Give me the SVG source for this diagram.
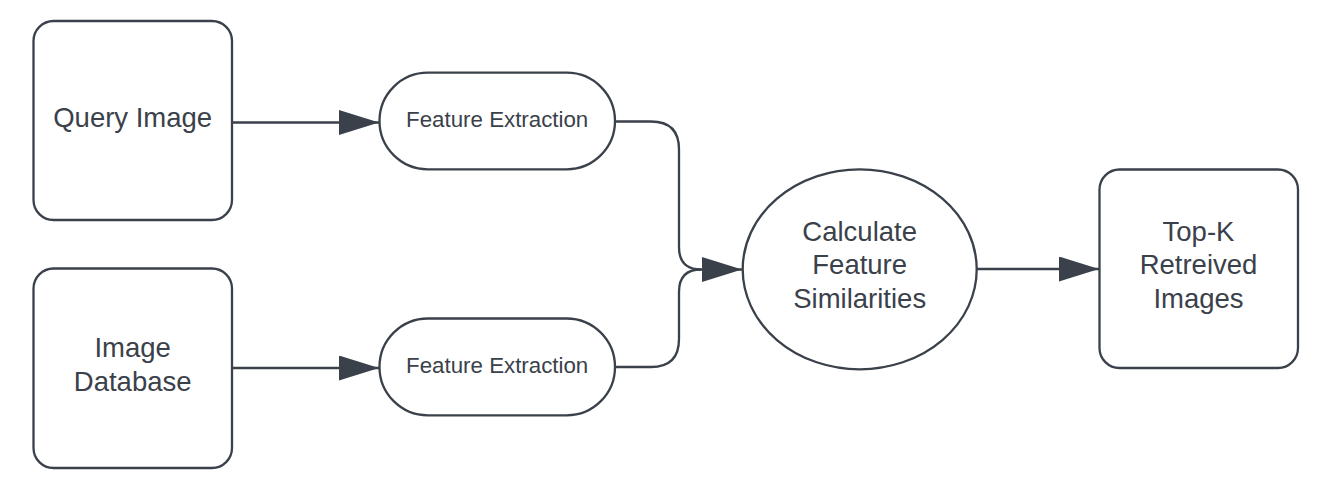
<svg xmlns="http://www.w3.org/2000/svg" width="1344" height="490" viewBox="0 0 1344 490">
<style>
.shape{fill:#ffffff;stroke:#3a414a;stroke-width:2.3}
.conn{fill:none;stroke:#3a414a;stroke-width:2.3}
.lbl{font-family:"Liberation Sans",Arial,sans-serif;font-size:27.5px;fill:#3a414a;text-anchor:middle}
.sm{font-size:22.3px}
</style>
<defs>
<marker id="arr" markerUnits="userSpaceOnUse" viewBox="0 0 40 25" refX="40" refY="12.5" markerWidth="40" markerHeight="25" orient="auto">
<path d="M0,0 L40,12.5 L0,25 Z" fill="#3a414a"/>
</marker>
</defs>
<rect width="1344" height="490" fill="#ffffff"/>
<g id="connectors">
<path class="conn" d="M232,122.5 H379" marker-end="url(#arr)"/>
<path class="conn" d="M232,368 H379" marker-end="url(#arr)"/>
<path class="conn" d="M615,121.5 H651 Q679,121.5 679,149.5 V247 Q679,269.5 701,269.5 H742" marker-end="url(#arr)"/>
<path class="conn" d="M615,367 H651 Q679,367 679,339 V292 Q679,269.5 701,269.5"/>
<path class="conn" d="M976.5,269 H1099" marker-end="url(#arr)"/>
</g>
<g id="query-image">
<rect class="shape" x="33.5" y="21" width="198.5" height="199" rx="20"/>
<text class="lbl" x="132.7" y="126.5">Query Image</text>
</g>
<g id="image-database">
<rect class="shape" x="33.5" y="268.5" width="198.5" height="199.5" rx="20"/>
<text class="lbl" x="132.7" y="356.7">Image</text>
<text class="lbl" x="132.7" y="390.5">Database</text>
</g>
<g id="feature-extraction-1">
<rect class="shape" x="379.5" y="72.7" width="235.5" height="96.6" rx="48.3"/>
<text class="lbl sm" x="497.2" y="126.7">Feature Extraction</text>
</g>
<g id="feature-extraction-2">
<rect class="shape" x="379.5" y="318.5" width="235.5" height="96.8" rx="48.4"/>
<text class="lbl sm" x="497.2" y="372.5">Feature Extraction</text>
</g>
<g id="calculate-similarities">
<ellipse class="shape" cx="859.7" cy="269.3" rx="117" ry="100"/>
<text class="lbl" x="859.7" y="241">Calculate</text>
<text class="lbl" x="859.7" y="274.3">Feature</text>
<text class="lbl" x="859.7" y="307.7">Similarities</text>
</g>
<g id="top-k">
<rect class="shape" x="1099.5" y="169.5" width="198.5" height="198.5" rx="20"/>
<text class="lbl" x="1198.5" y="241">Top-K</text>
<text class="lbl" x="1198.5" y="274.3">Retreived</text>
<text class="lbl" x="1198.5" y="307.7">Images</text>
</g>
</svg>
